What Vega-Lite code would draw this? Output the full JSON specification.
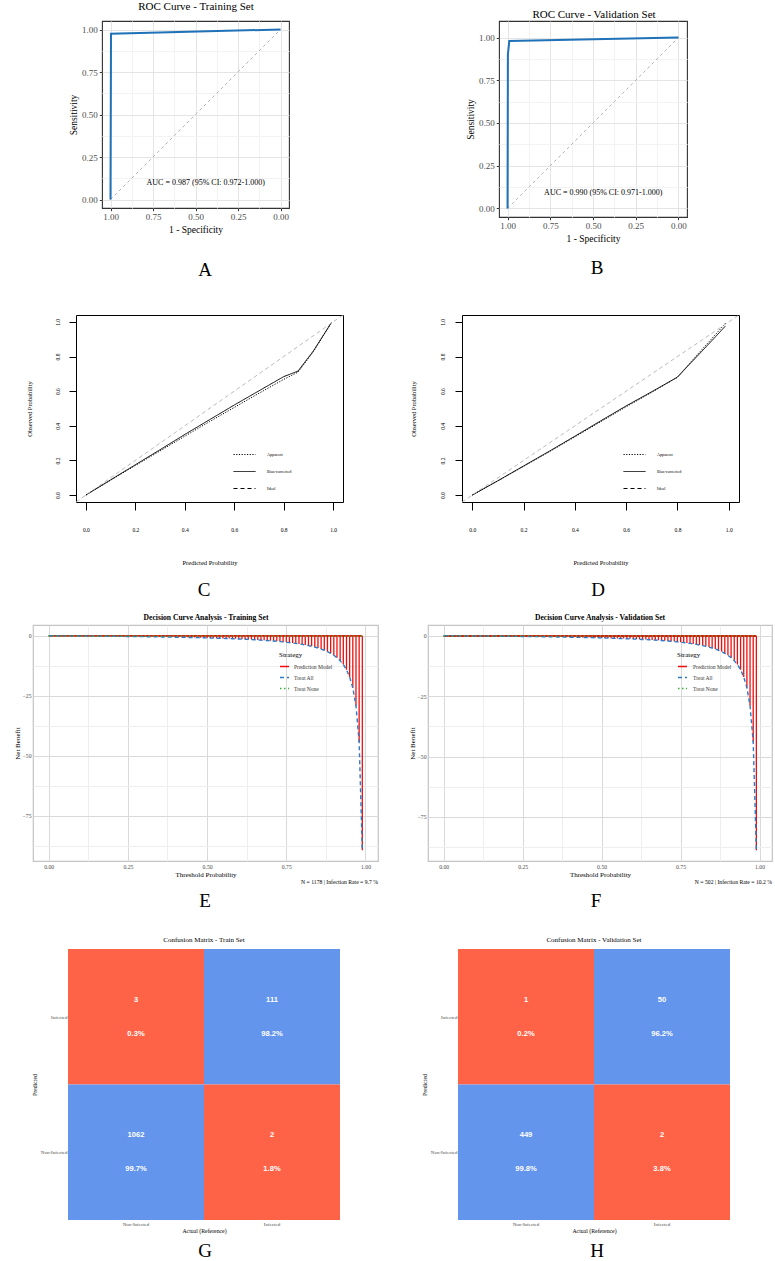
{
  "$schema": "https://vega.github.io/schema/vega-lite/v6.json",
  "background": "white",
  "padding": 0,
  "datasets": {
    "dcaTrain": [
      {"pt":0,"all":0.1},{"pt":0.01,"all":0.09},{"pt":0.02,"all":0.08},{"pt":0.03,"all":0.07},{"pt":0.04,"all":0.06},{"pt":0.05,"all":0.05},{"pt":0.06,"all":0.04},{"pt":0.07,"all":0.03},{"pt":0.08,"all":0.02},{"pt":0.09,"all":0.01},
      {"pt":0.1,"all":0},{"pt":0.11,"all":-0.02},{"pt":0.12,"all":-0.03},{"pt":0.13,"all":-0.04},{"pt":0.14,"all":-0.05},{"pt":0.15,"all":-0.06},{"pt":0.16,"all":-0.08},{"pt":0.17,"all":-0.09},{"pt":0.18,"all":-0.1},{"pt":0.19,"all":-0.12},
      {"pt":0.2,"all":-0.13},{"pt":0.21,"all":-0.14},{"pt":0.22,"all":-0.16},{"pt":0.23,"all":-0.17},{"pt":0.24,"all":-0.19},{"pt":0.25,"all":-0.2},{"pt":0.26,"all":-0.22},{"pt":0.27,"all":-0.24},{"pt":0.28,"all":-0.25},{"pt":0.29,"all":-0.27},
      {"pt":0.3,"all":-0.29},{"pt":0.31,"all":-0.31},{"pt":0.32,"all":-0.33},{"pt":0.33,"all":-0.35},{"pt":0.34,"all":-0.37},{"pt":0.35,"all":-0.39},{"pt":0.36,"all":-0.41},{"pt":0.37,"all":-0.43},{"pt":0.38,"all":-0.46},{"pt":0.39,"all":-0.48},
      {"pt":0.4,"all":-0.51},{"pt":0.41,"all":-0.53},{"pt":0.42,"all":-0.56},{"pt":0.43,"all":-0.58},{"pt":0.44,"all":-0.61},{"pt":0.45,"all":-0.64},{"pt":0.46,"all":-0.67},{"pt":0.47,"all":-0.7},{"pt":0.48,"all":-0.74},{"pt":0.49,"all":-0.77},
      {"pt":0.5,"all":-0.81},{"pt":0.51,"all":-0.84},{"pt":0.52,"all":-0.88},{"pt":0.53,"all":-0.92},{"pt":0.54,"all":-0.96},{"pt":0.55,"all":-1.01},{"pt":0.56,"all":-1.05},{"pt":0.57,"all":-1.1},{"pt":0.58,"all":-1.15},{"pt":0.59,"all":-1.2},
      {"pt":0.6,"all":-1.26},{"pt":0.61,"all":-1.32},{"pt":0.62,"all":-1.38},{"pt":0.63,"all":-1.44},{"pt":0.64,"all":-1.51},{"pt":0.65,"all":-1.58},{"pt":0.66,"all":-1.66},{"pt":0.67,"all":-1.74},{"pt":0.68,"all":-1.82},{"pt":0.69,"all":-1.91},
      {"pt":0.7,"all":-2.01},{"pt":0.71,"all":-2.11},{"pt":0.72,"all":-2.23},{"pt":0.73,"all":-2.34},{"pt":0.74,"all":-2.47},{"pt":0.75,"all":-2.61},{"pt":0.76,"all":-2.76},{"pt":0.77,"all":-2.93},{"pt":0.78,"all":-3.11},{"pt":0.79,"all":-3.3},
      {"pt":0.8,"all":-3.52},{"pt":0.81,"all":-3.75},{"pt":0.82,"all":-4.02},{"pt":0.83,"all":-4.31},{"pt":0.84,"all":-4.64},{"pt":0.85,"all":-5.02},{"pt":0.86,"all":-5.45},{"pt":0.87,"all":-5.95},{"pt":0.88,"all":-6.53},{"pt":0.89,"all":-7.21},
      {"pt":0.9,"all":-8.03},{"pt":0.91,"all":-9.03},{"pt":0.92,"all":-10.29},{"pt":0.93,"all":-11.9},{"pt":0.94,"all":-14.05},{"pt":0.95,"all":-17.06},{"pt":0.96,"all":-21.58},{"pt":0.97,"all":-29.1},{"pt":0.98,"all":-44.15},{"pt":0.99,"all":-89.3}
    ],
    "dcaVal": [
      {"pt":0,"all":0.1},{"pt":0.01,"all":0.09},{"pt":0.02,"all":0.08},{"pt":0.03,"all":0.07},{"pt":0.04,"all":0.07},{"pt":0.05,"all":0.06},{"pt":0.06,"all":0.05},{"pt":0.07,"all":0.03},{"pt":0.08,"all":0.02},{"pt":0.09,"all":0.01},
      {"pt":0.1,"all":0},{"pt":0.11,"all":-0.01},{"pt":0.12,"all":-0.02},{"pt":0.13,"all":-0.03},{"pt":0.14,"all":-0.04},{"pt":0.15,"all":-0.06},{"pt":0.16,"all":-0.07},{"pt":0.17,"all":-0.08},{"pt":0.18,"all":-0.1},{"pt":0.19,"all":-0.11},
      {"pt":0.2,"all":-0.12},{"pt":0.21,"all":-0.14},{"pt":0.22,"all":-0.15},{"pt":0.23,"all":-0.17},{"pt":0.24,"all":-0.18},{"pt":0.25,"all":-0.2},{"pt":0.26,"all":-0.21},{"pt":0.27,"all":-0.23},{"pt":0.28,"all":-0.25},{"pt":0.29,"all":-0.27},
      {"pt":0.3,"all":-0.28},{"pt":0.31,"all":-0.3},{"pt":0.32,"all":-0.32},{"pt":0.33,"all":-0.34},{"pt":0.34,"all":-0.36},{"pt":0.35,"all":-0.38},{"pt":0.36,"all":-0.4},{"pt":0.37,"all":-0.43},{"pt":0.38,"all":-0.45},{"pt":0.39,"all":-0.47},
      {"pt":0.4,"all":-0.5},{"pt":0.41,"all":-0.52},{"pt":0.42,"all":-0.55},{"pt":0.43,"all":-0.58},{"pt":0.44,"all":-0.6},{"pt":0.45,"all":-0.63},{"pt":0.46,"all":-0.66},{"pt":0.47,"all":-0.69},{"pt":0.48,"all":-0.73},{"pt":0.49,"all":-0.76},
      {"pt":0.5,"all":-0.8},{"pt":0.51,"all":-0.83},{"pt":0.52,"all":-0.87},{"pt":0.53,"all":-0.91},{"pt":0.54,"all":-0.95},{"pt":0.55,"all":-1},{"pt":0.56,"all":-1.04},{"pt":0.57,"all":-1.09},{"pt":0.58,"all":-1.14},{"pt":0.59,"all":-1.19},
      {"pt":0.6,"all":-1.25},{"pt":0.61,"all":-1.3},{"pt":0.62,"all":-1.36},{"pt":0.63,"all":-1.43},{"pt":0.64,"all":-1.49},{"pt":0.65,"all":-1.57},{"pt":0.66,"all":-1.64},{"pt":0.67,"all":-1.72},{"pt":0.68,"all":-1.81},{"pt":0.69,"all":-1.9},
      {"pt":0.7,"all":-1.99},{"pt":0.71,"all":-2.1},{"pt":0.72,"all":-2.21},{"pt":0.73,"all":-2.33},{"pt":0.74,"all":-2.45},{"pt":0.75,"all":-2.59},{"pt":0.76,"all":-2.74},{"pt":0.77,"all":-2.9},{"pt":0.78,"all":-3.08},{"pt":0.79,"all":-3.28},
      {"pt":0.8,"all":-3.49},{"pt":0.81,"all":-3.73},{"pt":0.82,"all":-3.99},{"pt":0.83,"all":-4.28},{"pt":0.84,"all":-4.61},{"pt":0.85,"all":-4.99},{"pt":0.86,"all":-5.41},{"pt":0.87,"all":-5.91},{"pt":0.88,"all":-6.48},{"pt":0.89,"all":-7.16},
      {"pt":0.9,"all":-7.98},{"pt":0.91,"all":-8.98},{"pt":0.92,"all":-10.23},{"pt":0.93,"all":-11.83},{"pt":0.94,"all":-13.97},{"pt":0.95,"all":-16.96},{"pt":0.96,"all":-21.45},{"pt":0.97,"all":-28.93},{"pt":0.98,"all":-43.9},{"pt":0.99,"all":-88.8}
    ]
  },
  "spacing": 0,
  "bounds": "full",
  "resolve": {
    "scale": {"color": "independent", "strokeDash": "independent"},
    "legend": {"color": "independent", "strokeDash": "independent"}
  },
  "vconcat": [
    {
      "hconcat": [
        {"width": 195, "height": 20, "data": {"values": []}, "mark": "point"},
        {"width": 2, "height": 14, "data": {"values": [{"label": "ROC Curve - Training Set"}]},
         "mark": {"type": "text", "fontSize": 11, "font": "Liberation Serif", "align": "center", "baseline": "middle", "color": "black"},
         "encoding": {"text": {"field": "label"}}},
        {"width": 396, "height": 1, "data": {"values": []}, "mark": "point"},
        {"width": 2, "height": 20, "data": {"values": [{"label": "ROC Curve - Validation Set"}]},
         "mark": {"type": "text", "fontSize": 11, "font": "Liberation Serif", "align": "center", "baseline": "middle", "dy": 4.5, "color": "black"},
         "encoding": {"text": {"field": "label"}}}
      ],
      "spacing": 0, "bounds": "flush"
    },
    {
      "hconcat": [
        {"width": 102, "height": 234, "data": {"values": []}, "mark": "point"},
        {
          "width": 187, "height": 187,
          "view": {"stroke": "#333333", "strokeWidth": 1.1},
          "encoding": {
            "x": {"field": "spec", "type": "quantitative",
              "scale": {"domain": [-0.05, 1.05], "reverse": true, "nice": false, "zero": false},
              "axis": {"title": "1 - Specificity", "values": [0, 0.125, 0.25, 0.375, 0.5, 0.625, 0.75, 0.875, 1],
                "labelExpr": "datum.value * 4 % 1 == 0 ? format(datum.value, '.2f') : ''",
                "tickOpacity": {"condition": {"test": "datum.value * 4 % 1 != 0", "value": 0}, "value": 1},
                "gridColor": {"condition": {"test": "datum.value * 4 % 1 != 0", "value": "#F3F3F3"}, "value": "#E4E4E4"},
                "tickSize": 2.7, "tickColor": "#333333", "labelFontSize": 9, "labelColor": "#4D4D4D", "labelPadding": 2,
                "titleFontSize": 9.5, "titlePadding": 3}},
            "y": {"field": "sens", "type": "quantitative",
              "scale": {"domain": [-0.05, 1.05], "nice": false, "zero": false},
              "axis": {"title": "Sensitivity", "values": [0, 0.125, 0.25, 0.375, 0.5, 0.625, 0.75, 0.875, 1],
                "labelExpr": "datum.value * 4 % 1 == 0 ? format(datum.value, '.2f') : ''",
                "tickOpacity": {"condition": {"test": "datum.value * 4 % 1 != 0", "value": 0}, "value": 1},
                "gridColor": {"condition": {"test": "datum.value * 4 % 1 != 0", "value": "#F3F3F3"}, "value": "#E4E4E4"},
                "tickSize": 2.7, "tickColor": "#333333", "labelFontSize": 9, "labelColor": "#4D4D4D", "labelPadding": 2,
                "titleFontSize": 9.5, "titlePadding": 3}}
          },
          "layer": [
            {"data": {"values": [{"spec": 1, "sens": 0}, {"spec": 0, "sens": 1}]},
             "mark": {"type": "line", "color": "#9E9E9E", "strokeDash": [3, 3], "strokeWidth": 0.8}},
            {"data": {"values": [{"step": 1, "spec": 1, "sens": 0}, {"step": 2, "spec": 0.997, "sens": 0.975}, {"step": 3, "spec": 0, "sens": 1}]},
             "mark": {"type": "line", "color": "#1F72B8", "strokeWidth": 2},
             "encoding": {"order": {"field": "step", "type": "quantitative"}}},
            {"data": {"values": [{"spec": 0.44, "sens": 0.1, "label": "AUC = 0.987 (95% CI: 0.972-1.000)"}]},
             "mark": {"type": "text", "fontSize": 8, "font": "Liberation Serif", "color": "black"},
             "encoding": {"text": {"field": "label"}}}
          ]
        },
        {"width": 210, "height": 1, "data": {"values": []}, "mark": "point"},
        {
          "width": 188, "height": 196,
          "view": {"stroke": "#333333", "strokeWidth": 1.1},
          "encoding": {
            "x": {"field": "spec", "type": "quantitative",
              "scale": {"domain": [-0.05, 1.05], "reverse": true, "nice": false, "zero": false},
              "axis": {"title": "1 - Specificity", "values": [0, 0.125, 0.25, 0.375, 0.5, 0.625, 0.75, 0.875, 1],
                "labelExpr": "datum.value * 4 % 1 == 0 ? format(datum.value, '.2f') : ''",
                "tickOpacity": {"condition": {"test": "datum.value * 4 % 1 != 0", "value": 0}, "value": 1},
                "gridColor": {"condition": {"test": "datum.value * 4 % 1 != 0", "value": "#F3F3F3"}, "value": "#E4E4E4"},
                "tickSize": 2.7, "tickColor": "#333333", "labelFontSize": 9, "labelColor": "#4D4D4D", "labelPadding": 2,
                "titleFontSize": 9.5, "titlePadding": 3}},
            "y": {"field": "sens", "type": "quantitative",
              "scale": {"domain": [-0.05, 1.0968], "nice": false, "zero": false},
              "axis": {"title": "Sensitivity", "values": [0, 0.125, 0.25, 0.375, 0.5, 0.625, 0.75, 0.875, 1],
                "labelExpr": "datum.value * 4 % 1 == 0 ? format(datum.value, '.2f') : ''",
                "tickOpacity": {"condition": {"test": "datum.value * 4 % 1 != 0", "value": 0}, "value": 1},
                "gridColor": {"condition": {"test": "datum.value * 4 % 1 != 0", "value": "#F3F3F3"}, "value": "#E4E4E4"},
                "tickSize": 2.7, "tickColor": "#333333", "labelFontSize": 9, "labelColor": "#4D4D4D", "labelPadding": 2,
                "titleFontSize": 9.5, "titlePadding": 3}}
          },
          "layer": [
            {"data": {"values": [{"spec": 1, "sens": 0}, {"spec": 0, "sens": 1}]},
             "mark": {"type": "line", "color": "#9E9E9E", "strokeDash": [3, 3], "strokeWidth": 0.8}},
            {"data": {"values": [{"step": 1, "spec": 1, "sens": 0}, {"step": 2, "spec": 0.998, "sens": 0.9}, {"step": 3, "spec": 0.99, "sens": 0.98}, {"step": 4, "spec": 0, "sens": 1}]},
             "mark": {"type": "line", "color": "#1F72B8", "strokeWidth": 2},
             "encoding": {"order": {"field": "step", "type": "quantitative"}}},
            {"data": {"values": [{"spec": 0.44, "sens": 0.09, "label": "AUC = 0.990 (95% CI: 0.971-1.000)"}]},
             "mark": {"type": "text", "fontSize": 8, "font": "Liberation Serif", "color": "black"},
             "encoding": {"text": {"field": "label"}}}
          ]
        }
      ],
      "spacing": 0, "bounds": "flush"
    },
    {
      "hconcat": [
        {"width": 190, "height": 57, "data": {"values": []}, "mark": "point"},
        {"width": 30, "height": 30, "data": {"values": [{"label": "A"}]},
         "mark": {"type": "text", "fontSize": 19, "font": "Liberation Serif", "align": "center", "baseline": "middle", "color": "black"},
         "encoding": {"text": {"field": "label"}}},
        {"width": 362, "height": 1, "data": {"values": []}, "mark": "point"},
        {"width": 30, "height": 30, "data": {"values": [{"label": "B"}]},
         "mark": {"type": "text", "fontSize": 19, "font": "Liberation Serif", "align": "center", "baseline": "middle", "dy": -2, "color": "black"},
         "encoding": {"text": {"field": "label"}}}
      ],
      "spacing": 0, "bounds": "flush"
    },
    {
      "hconcat": [
        {"width": 76, "height": 260, "data": {"values": []}, "mark": "point"},
        {
          "width": 267, "height": 187,
          "view": {"stroke": "black", "strokeWidth": 1},
          "encoding": {
            "x": {"field": "x", "type": "quantitative",
              "scale": {"domain": [-0.04, 1.04], "nice": false, "zero": false},
              "axis": {"title": "Predicted Probability", "values": [0, 0.2, 0.4, 0.6, 0.8, 1], "format": ".1f", "grid": false,
                "tickSize": 8, "tickColor": "black", "labelFontSize": 5.5, "labelColor": "black", "labelPadding": 17,
                "titleFontSize": 6.5, "titlePadding": 27}},
            "y": {"field": "y", "type": "quantitative",
              "scale": {"domain": [-0.04, 1.04], "nice": false, "zero": false},
              "axis": {"title": "Observed Probability", "values": [0, 0.2, 0.4, 0.6, 0.8, 1], "format": ".1f", "grid": false,
                "tickSize": 7, "tickColor": "black", "labelFontSize": 5.5, "labelColor": "black", "labelPadding": 9,
                "labelAngle": 270, "labelAlign": "center", "labelBaseline": "bottom",
                "titleFontSize": 6.5, "titlePadding": 23}},
            "strokeDash": {"field": "curve", "type": "nominal",
              "scale": {"domain": ["Apparent", "Bias-corrected", "Ideal"], "range": [[1.2, 1.5], [1, 0], [4, 3]]},
              "legend": {"orient": "none", "legendX": 157, "legendY": 128, "title": null, "symbolType": "stroke",
                "symbolSize": 484, "symbolStrokeWidth": 1, "symbolStrokeColor": "black", "labelFontSize": 4.2,
                "labelOffset": 11, "rowPadding": 3}}
          },
          "layer": [
            {"data": {"values": [
              {"curve": "Apparent", "x": 0, "y": 0}, {"curve": "Apparent", "x": 0.1, "y": 0.086}, {"curve": "Apparent", "x": 0.2, "y": 0.171},
              {"curve": "Apparent", "x": 0.3, "y": 0.255}, {"curve": "Apparent", "x": 0.4, "y": 0.34}, {"curve": "Apparent", "x": 0.5, "y": 0.424},
              {"curve": "Apparent", "x": 0.6, "y": 0.506}, {"curve": "Apparent", "x": 0.7, "y": 0.588}, {"curve": "Apparent", "x": 0.8, "y": 0.668},
              {"curve": "Apparent", "x": 0.858, "y": 0.71}, {"curve": "Apparent", "x": 0.92, "y": 0.828}, {"curve": "Apparent", "x": 0.993, "y": 0.996},
              {"curve": "Bias-corrected", "x": 0, "y": 0}, {"curve": "Bias-corrected", "x": 0.1, "y": 0.088}, {"curve": "Bias-corrected", "x": 0.2, "y": 0.175},
              {"curve": "Bias-corrected", "x": 0.3, "y": 0.262}, {"curve": "Bias-corrected", "x": 0.4, "y": 0.35}, {"curve": "Bias-corrected", "x": 0.5, "y": 0.435},
              {"curve": "Bias-corrected", "x": 0.6, "y": 0.52}, {"curve": "Bias-corrected", "x": 0.7, "y": 0.602}, {"curve": "Bias-corrected", "x": 0.8, "y": 0.684},
              {"curve": "Bias-corrected", "x": 0.858, "y": 0.716}, {"curve": "Bias-corrected", "x": 0.92, "y": 0.832}, {"curve": "Bias-corrected", "x": 0.993, "y": 0.996}
             ]},
             "mark": {"type": "line", "color": "black", "strokeWidth": 1}},
            {"data": {"values": [{"curve": "Ideal", "x": -0.04, "y": -0.04}, {"curve": "Ideal", "x": 1.04, "y": 1.04}]},
             "mark": {"type": "line", "color": "#AAAAAA", "strokeWidth": 0.8}}
          ]
        },
        {"width": 119, "height": 1, "data": {"values": []}, "mark": "point"},
        {
          "width": 277, "height": 187,
          "view": {"stroke": "black", "strokeWidth": 1},
          "encoding": {
            "x": {"field": "x", "type": "quantitative",
              "scale": {"domain": [-0.04, 1.04], "nice": false, "zero": false},
              "axis": {"title": "Predicted Probability", "values": [0, 0.2, 0.4, 0.6, 0.8, 1], "format": ".1f", "grid": false,
                "tickSize": 8, "tickColor": "black", "labelFontSize": 5.5, "labelColor": "black", "labelPadding": 17,
                "titleFontSize": 6.5, "titlePadding": 27}},
            "y": {"field": "y", "type": "quantitative",
              "scale": {"domain": [-0.04, 1.04], "nice": false, "zero": false},
              "axis": {"title": "Observed Probability", "values": [0, 0.2, 0.4, 0.6, 0.8, 1], "format": ".1f", "grid": false,
                "tickSize": 7, "tickColor": "black", "labelFontSize": 5.5, "labelColor": "black", "labelPadding": 10,
                "labelAngle": 270, "labelAlign": "center", "labelBaseline": "bottom",
                "titleFontSize": 6.5, "titlePadding": 24}},
            "strokeDash": {"field": "curve", "type": "nominal",
              "scale": {"domain": ["Apparent", "Bias-corrected", "Ideal"], "range": [[1.2, 1.5], [1, 0], [4, 3]]},
              "legend": {"orient": "none", "legendX": 161, "legendY": 128, "title": null, "symbolType": "stroke",
                "symbolSize": 484, "symbolStrokeWidth": 1, "symbolStrokeColor": "black", "labelFontSize": 4.2,
                "labelOffset": 11, "rowPadding": 3}}
          },
          "layer": [
            {"data": {"values": [
              {"curve": "Apparent", "x": 0, "y": 0}, {"curve": "Apparent", "x": 0.1, "y": 0.082}, {"curve": "Apparent", "x": 0.2, "y": 0.166},
              {"curve": "Apparent", "x": 0.3, "y": 0.25}, {"curve": "Apparent", "x": 0.4, "y": 0.336}, {"curve": "Apparent", "x": 0.5, "y": 0.423},
              {"curve": "Apparent", "x": 0.6, "y": 0.51}, {"curve": "Apparent", "x": 0.7, "y": 0.594}, {"curve": "Apparent", "x": 0.8, "y": 0.681},
              {"curve": "Apparent", "x": 0.85, "y": 0.765}, {"curve": "Apparent", "x": 0.9, "y": 0.848}, {"curve": "Apparent", "x": 0.95, "y": 0.93},
              {"curve": "Apparent", "x": 0.99, "y": 0.997},
              {"curve": "Bias-corrected", "x": 0, "y": 0}, {"curve": "Bias-corrected", "x": 0.1, "y": 0.083}, {"curve": "Bias-corrected", "x": 0.2, "y": 0.168},
              {"curve": "Bias-corrected", "x": 0.3, "y": 0.253}, {"curve": "Bias-corrected", "x": 0.4, "y": 0.34}, {"curve": "Bias-corrected", "x": 0.5, "y": 0.428},
              {"curve": "Bias-corrected", "x": 0.6, "y": 0.515}, {"curve": "Bias-corrected", "x": 0.7, "y": 0.597}, {"curve": "Bias-corrected", "x": 0.8, "y": 0.681},
              {"curve": "Bias-corrected", "x": 0.85, "y": 0.76}, {"curve": "Bias-corrected", "x": 0.9, "y": 0.838}, {"curve": "Bias-corrected", "x": 0.95, "y": 0.917},
              {"curve": "Bias-corrected", "x": 0.987, "y": 0.976}
             ]},
             "mark": {"type": "line", "color": "black", "strokeWidth": 1}},
            {"data": {"values": [{"curve": "Ideal", "x": -0.04, "y": -0.04}, {"curve": "Ideal", "x": 1.04, "y": 1.04}]},
             "mark": {"type": "line", "color": "#AAAAAA", "strokeWidth": 0.8}}
          ]
        }
      ],
      "spacing": 0, "bounds": "flush",
      "resolve": {"scale": {"strokeDash": "independent"}, "legend": {"strokeDash": "independent"}}
    },
    {
      "hconcat": [
        {"width": 189, "height": 36, "data": {"values": []}, "mark": "point"},
        {"width": 30, "height": 30, "data": {"values": [{"label": "C"}]},
         "mark": {"type": "text", "fontSize": 19, "font": "Liberation Serif", "align": "center", "baseline": "middle", "color": "black"},
         "encoding": {"text": {"field": "label"}}},
        {"width": 364, "height": 1, "data": {"values": []}, "mark": "point"},
        {"width": 30, "height": 30, "data": {"values": [{"label": "D"}]},
         "mark": {"type": "text", "fontSize": 19, "font": "Liberation Serif", "align": "center", "baseline": "middle", "color": "black"},
         "encoding": {"text": {"field": "label"}}}
      ],
      "spacing": 0, "bounds": "flush"
    },
    {
      "hconcat": [
        {"width": 205, "height": 13, "data": {"values": []}, "mark": "point"},
        {"width": 2, "height": 13, "data": {"values": [{"label": "Decision Curve Analysis - Training Set"}]},
         "mark": {"type": "text", "fontSize": 7.6, "fontWeight": "bold", "font": "Liberation Serif", "align": "center", "baseline": "middle", "color": "black"},
         "encoding": {"text": {"field": "label"}}},
        {"width": 392, "height": 1, "data": {"values": []}, "mark": "point"},
        {"width": 2, "height": 13, "data": {"values": [{"label": "Decision Curve Analysis - Validation Set"}]},
         "mark": {"type": "text", "fontSize": 7.6, "fontWeight": "bold", "font": "Liberation Serif", "align": "center", "baseline": "middle", "color": "black"},
         "encoding": {"text": {"field": "label"}}}
      ],
      "spacing": 0, "bounds": "flush"
    },
    {
      "hconcat": [
        {"width": 33, "height": 261, "data": {"values": []}, "mark": "point"},
        {
          "width": 345, "height": 236,
          "data": {"name": "dcaTrain"},
          "title": {"text": "N = 1178 | Infection Rate = 9.7 %", "orient": "bottom", "anchor": "end", "frame": "group", "fontSize": 5.7, "baseline": "middle", "offset": 4},
          "view": {"stroke": "#C4C4C4", "strokeWidth": 1.2},
          "encoding": {
            "x": {"field": "pt", "type": "quantitative",
              "scale": {"domain": [-0.0495, 1.0395], "nice": false, "zero": false},
              "axis": {"title": "Threshold Probability", "values": [0, 0.125, 0.25, 0.375, 0.5, 0.625, 0.75, 0.875, 1],
                "labelExpr": "datum.value * 4 % 1 == 0 ? format(datum.value, '.2f') : ''",
                "ticks": false, "labelFontSize": 5.7, "labelColor": "#4D4D4D", "labelPadding": 2,
                "gridColor": {"condition": {"test": "datum.value * 4 % 1 != 0", "value": "#EEEEEE"}, "value": "#D9D9D9"},
                "titleFontSize": 7, "titlePadding": 2}},
            "y": {"field": "all", "type": "quantitative", "scale": {"domain": [-93.77, 4.57], "nice": false, "zero": false},
              "axis": {"title": "Net Benefit", "values": [0, -12.5, -25, -37.5, -50, -62.5, -75, -87.5],
                "labelExpr": "datum.value % 25 == 0 ? format(datum.value, 'd') : ''",
                "ticks": false, "labelFontSize": 5.7, "labelColor": "#4D4D4D", "labelPadding": 2,
                "gridColor": {"condition": {"test": "datum.value % 25 != 0", "value": "#EEEEEE"}, "value": "#D9D9D9"},
                "titleFontSize": 7, "titlePadding": 2}}
          },
          "layer": [
            {"mark": {"type": "rule", "strokeWidth": 1.3},
             "encoding": {
               "y2": {"datum": 0},
               "color": {"datum": "Prediction Model", "type": "nominal",
                 "scale": {"domain": ["Prediction Model", "Treat All", "Treat None"], "range": ["#F20D0D", "#2B7BC8", "#33B233"]},
                 "legend": {"orient": "none", "legendX": 246, "legendY": 26, "title": "Strategy", "titleFontSize": 7, "titlePadding": 3,
                   "symbolType": "stroke", "symbolSize": 81, "symbolStrokeWidth": 1.6, "labelFontSize": 5.5, "labelOffset": 4, "rowPadding": 2, "labelColor": "#333333"}},
               "strokeDash": {"datum": "Prediction Model", "type": "nominal",
                 "scale": {"domain": ["Prediction Model", "Treat All", "Treat None"], "range": [[1, 0], [4, 3], [1.5, 2.5]]},
                 "legend": {"orient": "none", "legendX": 246, "legendY": 26, "title": "Strategy", "titleFontSize": 7, "titlePadding": 3,
                   "symbolType": "stroke", "symbolSize": 81, "symbolStrokeWidth": 1.6, "labelFontSize": 5.5, "labelOffset": 4, "rowPadding": 2, "labelColor": "#333333"}}
             }},
            {"mark": {"type": "line", "strokeWidth": 1.8},
             "encoding": {"y": {"datum": 0},
               "color": {"datum": "Prediction Model", "type": "nominal", "scale": {"domain": ["Prediction Model", "Treat All", "Treat None"], "range": ["#F20D0D", "#2B7BC8", "#33B233"]}},
               "strokeDash": {"datum": "Prediction Model", "type": "nominal", "scale": {"domain": ["Prediction Model", "Treat All", "Treat None"], "range": [[1, 0], [4, 3], [1.5, 2.5]]}}}},
            {"mark": {"type": "line", "strokeWidth": 1.4},
             "encoding": {
               "color": {"datum": "Treat All", "type": "nominal", "scale": {"domain": ["Prediction Model", "Treat All", "Treat None"], "range": ["#F20D0D", "#2B7BC8", "#33B233"]}},
               "strokeDash": {"datum": "Treat All", "type": "nominal", "scale": {"domain": ["Prediction Model", "Treat All", "Treat None"], "range": [[1, 0], [4, 3], [1.5, 2.5]]}}}},
            {"mark": {"type": "line", "strokeWidth": 1.4},
             "encoding": {"y": {"datum": 0},
               "color": {"datum": "Treat None", "type": "nominal", "scale": {"domain": ["Prediction Model", "Treat All", "Treat None"], "range": ["#F20D0D", "#2B7BC8", "#33B233"]}},
               "strokeDash": {"datum": "Treat None", "type": "nominal", "scale": {"domain": ["Prediction Model", "Treat All", "Treat None"], "range": [[1, 0], [4, 3], [1.5, 2.5]]}}}}
          ]
        },
        {"width": 50, "height": 1, "data": {"values": []}, "mark": "point"},
        {
          "width": 344, "height": 236,
          "data": {"name": "dcaVal"},
          "title": {"text": "N = 502 | Infection Rate = 10.2 %", "orient": "bottom", "anchor": "end", "frame": "group", "fontSize": 5.7, "baseline": "middle", "offset": 4},
          "view": {"stroke": "#C4C4C4", "strokeWidth": 1.2},
          "encoding": {
            "x": {"field": "pt", "type": "quantitative",
              "scale": {"domain": [-0.0495, 1.0395], "nice": false, "zero": false},
              "axis": {"title": "Threshold Probability", "values": [0, 0.125, 0.25, 0.375, 0.5, 0.625, 0.75, 0.875, 1],
                "labelExpr": "datum.value * 4 % 1 == 0 ? format(datum.value, '.2f') : ''",
                "ticks": false, "labelFontSize": 5.7, "labelColor": "#4D4D4D", "labelPadding": 2,
                "gridColor": {"condition": {"test": "datum.value * 4 % 1 != 0", "value": "#EEEEEE"}, "value": "#D9D9D9"},
                "titleFontSize": 7, "titlePadding": 2}},
            "y": {"field": "all", "type": "quantitative", "scale": {"domain": [-93.25, 4.55], "nice": false, "zero": false},
              "axis": {"title": "Net Benefit", "values": [0, -12.5, -25, -37.5, -50, -62.5, -75, -87.5],
                "labelExpr": "datum.value % 25 == 0 ? format(datum.value, 'd') : ''",
                "ticks": false, "labelFontSize": 5.7, "labelColor": "#4D4D4D", "labelPadding": 2,
                "gridColor": {"condition": {"test": "datum.value % 25 != 0", "value": "#EEEEEE"}, "value": "#D9D9D9"},
                "titleFontSize": 7, "titlePadding": 2}}
          },
          "layer": [
            {"mark": {"type": "rule", "strokeWidth": 1.3},
             "encoding": {
               "y2": {"datum": 0},
               "color": {"datum": "Prediction Model", "type": "nominal",
                 "scale": {"domain": ["Prediction Model", "Treat All", "Treat None"], "range": ["#F20D0D", "#2B7BC8", "#33B233"]},
                 "legend": {"orient": "none", "legendX": 249, "legendY": 26, "title": "Strategy", "titleFontSize": 7, "titlePadding": 3,
                   "symbolType": "stroke", "symbolSize": 81, "symbolStrokeWidth": 1.6, "labelFontSize": 5.5, "labelOffset": 5, "rowPadding": 2, "labelColor": "#333333"}},
               "strokeDash": {"datum": "Prediction Model", "type": "nominal",
                 "scale": {"domain": ["Prediction Model", "Treat All", "Treat None"], "range": [[1, 0], [4, 3], [1.5, 2.5]]},
                 "legend": {"orient": "none", "legendX": 249, "legendY": 26, "title": "Strategy", "titleFontSize": 7, "titlePadding": 3,
                   "symbolType": "stroke", "symbolSize": 81, "symbolStrokeWidth": 1.6, "labelFontSize": 5.5, "labelOffset": 5, "rowPadding": 2, "labelColor": "#333333"}}
             }},
            {"mark": {"type": "line", "strokeWidth": 1.8},
             "encoding": {"y": {"datum": 0},
               "color": {"datum": "Prediction Model", "type": "nominal", "scale": {"domain": ["Prediction Model", "Treat All", "Treat None"], "range": ["#F20D0D", "#2B7BC8", "#33B233"]}},
               "strokeDash": {"datum": "Prediction Model", "type": "nominal", "scale": {"domain": ["Prediction Model", "Treat All", "Treat None"], "range": [[1, 0], [4, 3], [1.5, 2.5]]}}}},
            {"mark": {"type": "line", "strokeWidth": 1.4},
             "encoding": {
               "color": {"datum": "Treat All", "type": "nominal", "scale": {"domain": ["Prediction Model", "Treat All", "Treat None"], "range": ["#F20D0D", "#2B7BC8", "#33B233"]}},
               "strokeDash": {"datum": "Treat All", "type": "nominal", "scale": {"domain": ["Prediction Model", "Treat All", "Treat None"], "range": [[1, 0], [4, 3], [1.5, 2.5]]}}}},
            {"mark": {"type": "line", "strokeWidth": 1.4},
             "encoding": {"y": {"datum": 0},
               "color": {"datum": "Treat None", "type": "nominal", "scale": {"domain": ["Prediction Model", "Treat All", "Treat None"], "range": ["#F20D0D", "#2B7BC8", "#33B233"]}},
               "strokeDash": {"datum": "Treat None", "type": "nominal", "scale": {"domain": ["Prediction Model", "Treat All", "Treat None"], "range": [[1, 0], [4, 3], [1.5, 2.5]]}}}}
          ]
        }
      ],
      "spacing": 0, "bounds": "flush",
      "resolve": {"scale": {"color": "independent", "strokeDash": "independent"}, "legend": {"color": "independent", "strokeDash": "independent"}}
    },
    {
      "hconcat": [
        {"width": 190, "height": 47, "data": {"values": []}, "mark": "point"},
        {"width": 30, "height": 30, "data": {"values": [{"label": "E"}]},
         "mark": {"type": "text", "fontSize": 19, "font": "Liberation Serif", "align": "center", "baseline": "middle", "color": "black"},
         "encoding": {"text": {"field": "label"}}},
        {"width": 361, "height": 1, "data": {"values": []}, "mark": "point"},
        {"width": 30, "height": 30, "data": {"values": [{"label": "F"}]},
         "mark": {"type": "text", "fontSize": 19, "font": "Liberation Serif", "align": "center", "baseline": "middle", "color": "black"},
         "encoding": {"text": {"field": "label"}}}
      ],
      "spacing": 0, "bounds": "flush"
    },
    {
      "hconcat": [
        {"width": 203, "height": 16, "data": {"values": []}, "mark": "point"},
        {"width": 2, "height": 16, "data": {"values": [{"label": "Confusion Matrix - Train Set"}]},
         "mark": {"type": "text", "fontSize": 7, "font": "Liberation Serif", "align": "center", "baseline": "middle", "dy": -1, "color": "black"},
         "encoding": {"text": {"field": "label"}}},
        {"width": 388, "height": 1, "data": {"values": []}, "mark": "point"},
        {"width": 2, "height": 16, "data": {"values": [{"label": "Confusion Matrix - Validation Set"}]},
         "mark": {"type": "text", "fontSize": 7, "font": "Liberation Serif", "align": "center", "baseline": "middle", "dy": -1, "color": "black"},
         "encoding": {"text": {"field": "label"}}}
      ],
      "spacing": 0, "bounds": "flush"
    },
    {
      "hconcat": [
        {"width": 68, "height": 292, "data": {"values": []}, "mark": "point"},
        {
          "width": 272, "height": 271,
          "data": {"values": [
            {"actual": "Non-Infected", "pred": "Infected", "n": 3, "share": 0.003, "result": "wrong"},
            {"actual": "Infected", "pred": "Infected", "n": 111, "share": 0.982, "result": "right"},
            {"actual": "Non-Infected", "pred": "Non-Infected", "n": 1062, "share": 0.997, "result": "right"},
            {"actual": "Infected", "pred": "Non-Infected", "n": 2, "share": 0.018, "result": "wrong"}
          ]},
          "encoding": {
            "x": {"field": "actual", "type": "nominal", "sort": ["Non-Infected", "Infected"],
              "axis": {"title": "Actual (Reference)", "labelAngle": 0, "ticks": false, "labelFontSize": 5, "labelColor": "#4D4D4D",
                "labelPadding": 1, "titleFontSize": 5.8, "titlePadding": 1.5}},
            "y": {"field": "pred", "type": "nominal", "sort": ["Infected", "Non-Infected"],
              "axis": {"title": "Predicted", "ticks": false, "labelFontSize": 5, "labelColor": "#4D4D4D",
                "labelPadding": 1, "titleFontSize": 5.8, "titlePadding": 3}}
          },
          "layer": [
            {"mark": {"type": "rect"},
             "encoding": {"color": {"field": "result", "type": "nominal", "scale": {"domain": ["right", "wrong"], "range": ["#6495ED", "#FF6347"]}, "legend": null}}},
            {"mark": {"type": "text", "dy": -17, "font": "Liberation Sans", "fontWeight": "bold", "fontSize": 7.6, "color": "white"},
             "encoding": {"text": {"field": "n", "type": "quantitative"}}},
            {"mark": {"type": "text", "dy": 17, "font": "Liberation Sans", "fontWeight": "bold", "fontSize": 7.6, "color": "white"},
             "encoding": {"text": {"field": "share", "type": "quantitative", "format": ".1%"}}}
          ]
        },
        {"width": 118, "height": 1, "data": {"values": []}, "mark": "point"},
        {
          "width": 272, "height": 271,
          "data": {"values": [
            {"actual": "Non-Infected", "pred": "Infected", "n": 1, "share": 0.002, "result": "wrong"},
            {"actual": "Infected", "pred": "Infected", "n": 50, "share": 0.962, "result": "right"},
            {"actual": "Non-Infected", "pred": "Non-Infected", "n": 449, "share": 0.998, "result": "right"},
            {"actual": "Infected", "pred": "Non-Infected", "n": 2, "share": 0.038, "result": "wrong"}
          ]},
          "encoding": {
            "x": {"field": "actual", "type": "nominal", "sort": ["Non-Infected", "Infected"],
              "axis": {"title": "Actual (Reference)", "labelAngle": 0, "ticks": false, "labelFontSize": 5, "labelColor": "#4D4D4D",
                "labelPadding": 1, "titleFontSize": 5.8, "titlePadding": 1.5}},
            "y": {"field": "pred", "type": "nominal", "sort": ["Infected", "Non-Infected"],
              "axis": {"title": "Predicted", "ticks": false, "labelFontSize": 5, "labelColor": "#4D4D4D",
                "labelPadding": 1, "titleFontSize": 5.8, "titlePadding": 3}}
          },
          "layer": [
            {"mark": {"type": "rect"},
             "encoding": {"color": {"field": "result", "type": "nominal", "scale": {"domain": ["right", "wrong"], "range": ["#6495ED", "#FF6347"]}, "legend": null}}},
            {"mark": {"type": "text", "dy": -17, "font": "Liberation Sans", "fontWeight": "bold", "fontSize": 7.6, "color": "white"},
             "encoding": {"text": {"field": "n", "type": "quantitative"}}},
            {"mark": {"type": "text", "dy": 17, "font": "Liberation Sans", "fontWeight": "bold", "fontSize": 7.6, "color": "white"},
             "encoding": {"text": {"field": "share", "type": "quantitative", "format": ".1%"}}}
          ]
        }
      ],
      "spacing": 0, "bounds": "flush",
      "resolve": {"scale": {"color": "independent"}, "legend": {"color": "independent"}}
    },
    {
      "hconcat": [
        {"width": 190, "height": 20, "data": {"values": []}, "mark": "point"},
        {"width": 30, "height": 20, "data": {"values": [{"label": "G"}]},
         "mark": {"type": "text", "fontSize": 19, "font": "Liberation Serif", "align": "center", "baseline": "middle", "color": "black"},
         "encoding": {"text": {"field": "label"}}},
        {"width": 362, "height": 1, "data": {"values": []}, "mark": "point"},
        {"width": 30, "height": 20, "data": {"values": [{"label": "H"}]},
         "mark": {"type": "text", "fontSize": 19, "font": "Liberation Serif", "align": "center", "baseline": "middle", "color": "black"},
         "encoding": {"text": {"field": "label"}}}
      ],
      "spacing": 0, "bounds": "flush"
    }
  ],
  "config": {
    "view": {"stroke": null},
    "font": "Liberation Serif",
    "title": {"font": "Liberation Serif", "fontWeight": "normal", "color": "black", "anchor": "middle", "frame": "group"},
    "axis": {"labelFont": "Liberation Serif", "titleFont": "Liberation Serif", "titleFontWeight": "normal", "titleColor": "black",
      "domain": false, "labelFlush": false, "labelOverlap": false},
    "legend": {"labelFont": "Liberation Serif", "titleFont": "Liberation Serif", "titleFontWeight": "normal", "titleColor": "black", "labelColor": "black"}
  }
}
